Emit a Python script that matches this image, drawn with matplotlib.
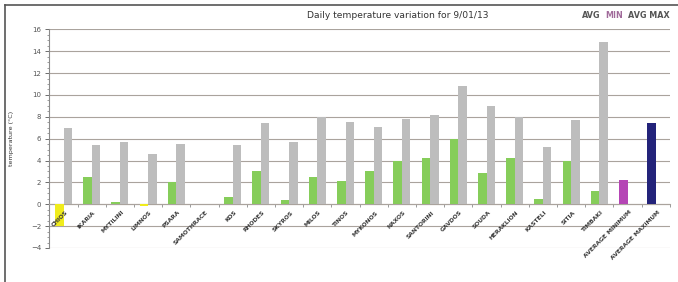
import numpy as np
import matplotlib
matplotlib.use("Agg")
import matplotlib.pyplot as plt
from matplotlib.lines import Line2D

# station names and readings (degrees C)
stations = ["CHIOS", "IKARIA", "MYTILINI", "LIMNOS", "PSARA", "SAMOTHRACE",
            "KOS", "RHODES", "SKYROS", "MILOS", "TINOS", "MYKONOS", "NAXOS",
            "SANTORINI", "GAVDOS", "SOUDA", "HERAKLION", "KASTELI", "SITIA",
            "TIMBAKI", "AVERAGE MINIMUM", "AVERAGE MAXIMUM"]
t_min = [-2.0, 2.45, 0.25, -0.2, 2.0, np.nan, 0.67, 3.0, 0.43, 2.47, 2.13,
         3.0, 4.0, 4.27, 6.0, 2.9, 4.27, 0.46, 4.0, 1.2, 2.2, 7.47]
t_max = [7.0, 5.4, 5.65, 4.6, 5.5, np.nan, 5.45, 7.45, 5.7, 8.0, 7.5,
         7.05, 7.8, 8.2, 10.8, 9.0, 8.0, 5.27, 7.75, 14.85, np.nan, np.nan]

green = "#86cd5a"
min_colors = []
for name, v in zip(stations, t_min):
    if name == "AVERAGE MINIMUM":
        min_colors.append("#b545b5")
    elif name == "AVERAGE MAXIMUM":
        min_colors.append("#23237a")
    elif v < 0:
        min_colors.append("#f0ec1c")
    else:
        min_colors.append(green)

fig = plt.figure(figsize=(6.78, 2.82), dpi=100)
ax = fig.add_axes([0.0729, 0.1206, 0.9151, 0.7755])

x = np.arange(len(stations))
w = 0.3
ax.bar(x - w / 2, t_min, width=w, color=min_colors, zorder=3)
ax.bar(x + w / 2, t_max, width=w, color="#bdbdbd", zorder=3)

ax.set_xlim(-0.5, len(stations) - 0.5)
ax.set_ylim(-4, 16)
ax.set_yticks(np.arange(-4, 17, 2))
ax.set_yticks(np.arange(-4, 16.01, 0.5), minor=True)
ax.grid(axis="y", color="#aaa39d", linewidth=0.8, zorder=0)
ax.tick_params(axis="y", which="major", labelsize=5, colors="#555555",
               length=3, width=0.6, pad=3)
ax.tick_params(axis="y", which="minor", length=1.5, width=0.5, colors="#777777")

for s in ["top", "right"]:
    ax.spines[s].set_visible(False)
ax.spines["left"].set_color("#8a8a8a")
ax.spines["bottom"].set_position(("data", 0))
ax.spines["bottom"].set_color("#aaa39d")
ax.set_xticks(np.arange(-0.5, len(stations), 1))
ax.set_xticklabels([])
ax.tick_params(axis="x", length=2.5, width=0.6, colors="#8a8a8a", direction="out")

for xi, name in zip(x, stations):
    ax.text(xi + 0.05, -0.5, name, rotation=45, ha="right", va="top",
            fontsize=4.3, fontweight="bold", color="#3a3a3a",
            rotation_mode="anchor")

ax.set_ylabel("temperature (°C)", fontsize=4.6, color="#333333", labelpad=12)

fig.text(0.453, 0.935, "Daily temperature variation for 9/01/13",
         fontsize=6.6, color="#333333")
fig.text(0.988, 0.935, "AVG MAX", fontsize=5.8, fontweight="bold",
         color="#555555", ha="right")
fig.text(0.919, 0.935, "MIN", fontsize=5.8, fontweight="bold",
         color="#a06a9a", ha="right")
fig.text(0.886, 0.935, "AVG", fontsize=5.8, fontweight="bold",
         color="#555555", ha="right")

# outer frame lines (top and left)
fig.add_artist(Line2D([0.007, 1.0], [0.982, 0.982], color="#555555", lw=1.2))
fig.add_artist(Line2D([0.007, 0.007], [0.0, 0.982], color="#555555", lw=1.2))

fig.savefig("out.png", dpi=100)
